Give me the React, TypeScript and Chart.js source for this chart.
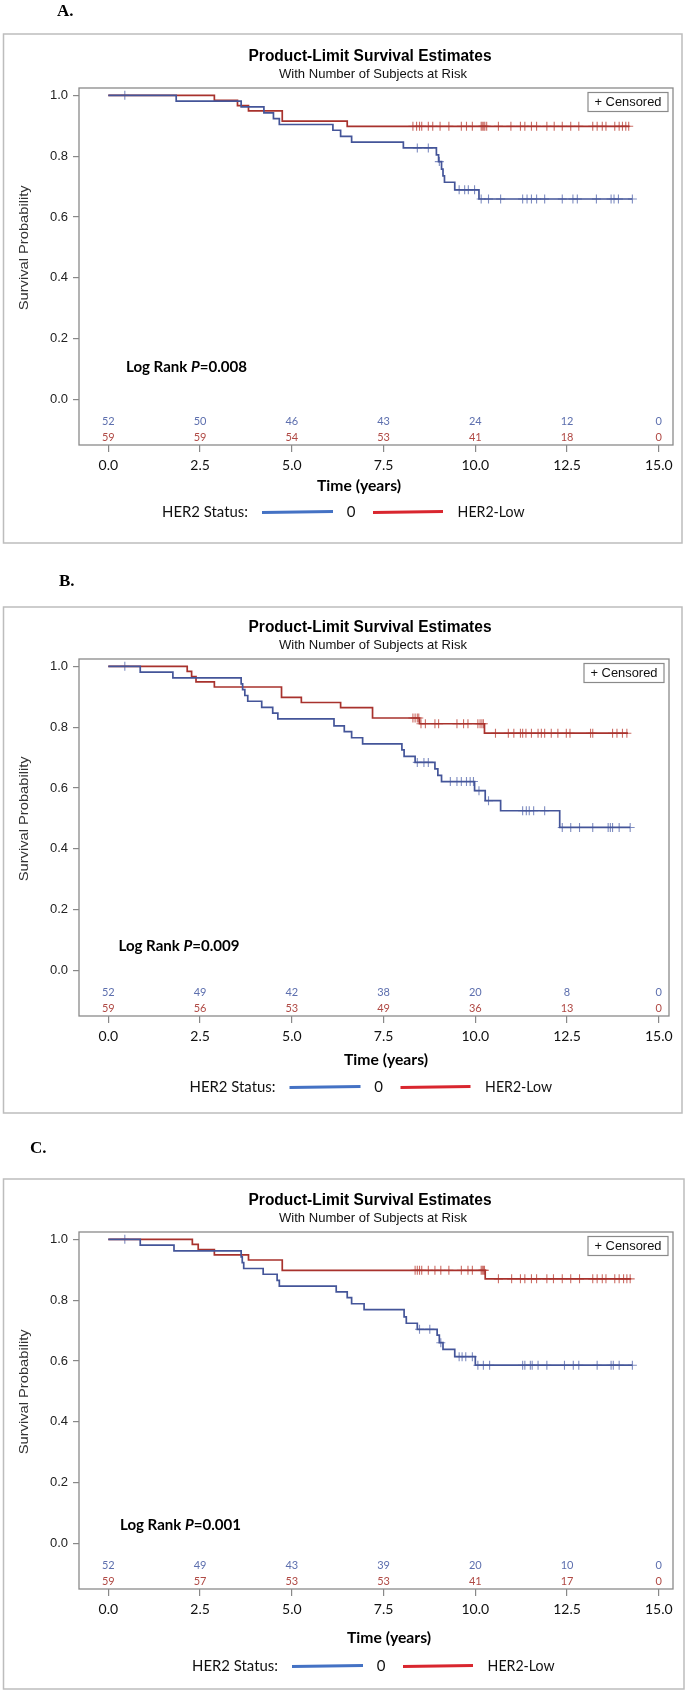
import React, { useEffect, useRef } from "react";
import { Chart, registerables } from "chart.js";
Chart.register(...registerables);

// ---------- shared axis data ----------
const X_TICKS = [0, 2.5, 5, 7.5, 10, 12.5, 15];
const Y_TICKS = [0, 0.2, 0.4, 0.6, 0.8, 1.0];
const RISK_TIMES = [0, 2.5, 5, 7.5, 10, 12.5, 15];
const GROUP_LABELS = ["0", "HER2-Low"];
const LEGEND_TITLE = "HER2 Status:";
const TITLE = "Product-Limit Survival Estimates";
const SUBTITLE = "With Number of Subjects at Risk";
const X_TITLE = "Time (years)";
const Y_TITLE = "Survival Probability";

// ---------- Panel A ----------
const A_ZERO_T = [0, 1.85, 3.62, 4.24, 4.5, 4.66, 6.12, 6.33, 6.63, 8.04, 8.94, 9.0, 9.08, 9.12, 9.16, 9.44, 10.1, 14.28];
const A_ZERO_S = [1, 0.981, 0.962, 0.942, 0.923, 0.904, 0.885, 0.865, 0.846, 0.827, 0.804, 0.782, 0.757, 0.735, 0.714, 0.689, 0.659, 0.659];
const A_ZERO_CENS = [0.45, 8.42, 8.72, 9.02, 9.56, 9.71, 9.81, 9.98, 10.16, 10.36, 10.69, 11.29, 11.41, 11.53, 11.67, 11.89, 12.37, 12.66, 12.78, 13.3, 13.7, 13.78, 13.9, 14.28];
const A_LOW_T = [0, 2.89, 3.52, 3.82, 4.74, 6.51, 14.2];
const A_LOW_S = [1, 0.983, 0.966, 0.949, 0.915, 0.898, 0.898];
const A_LOW_CENS = [8.3, 8.4, 8.48, 8.54, 8.72, 8.84, 9.04, 9.28, 9.62, 9.76, 9.92, 10.16, 10.19, 10.23, 10.26, 10.31, 10.63, 10.97, 11.23, 11.35, 11.53, 11.67, 11.95, 12.15, 12.37, 12.6, 12.82, 13.2, 13.32, 13.46, 13.56, 13.8, 13.92, 14.01, 14.1, 14.18];
const A_RISK_ZERO = [52, 50, 46, 43, 24, 12, 0];
const A_RISK_LOW = [59, 59, 54, 53, 41, 18, 0];
const A_P = "0.008";

// ---------- Panel B ----------
const B_ZERO_T = [0, 0.87, 1.76, 3.62, 3.66, 3.72, 3.8, 4.18, 4.48, 4.62, 6.15, 6.43, 6.63, 6.93, 8.0, 8.06, 8.36, 8.9, 8.98, 9.08, 9.98, 10.27, 10.69, 12.3, 14.22];
const B_ZERO_S = [1, 0.981, 0.962, 0.942, 0.923, 0.904, 0.885, 0.865, 0.846, 0.827, 0.804, 0.785, 0.765, 0.745, 0.725, 0.704, 0.684, 0.663, 0.641, 0.621, 0.591, 0.558, 0.525, 0.47, 0.47];
const B_ZERO_CENS = [0.45, 8.42, 8.6, 8.72, 9.32, 9.5, 9.62, 9.76, 9.86, 9.95, 10.1, 10.36, 11.29, 11.39, 11.47, 11.59, 11.89, 12.37, 12.6, 12.84, 13.2, 13.62, 13.68, 13.74, 13.92, 14.22];
const B_LOW_T = [0, 2.15, 2.27, 2.39, 2.89, 4.72, 5.26, 6.33, 7.2, 8.48, 10.25, 14.16];
const B_LOW_S = [1, 0.983, 0.966, 0.949, 0.932, 0.898, 0.881, 0.864, 0.83, 0.811, 0.78, 0.78];
const B_LOW_CENS = [8.3, 8.36, 8.42, 8.46, 8.52, 8.64, 8.9, 9.0, 9.5, 9.68, 9.8, 10.07, 10.13, 10.18, 10.22, 10.55, 10.9, 11.05, 11.23, 11.29, 11.38, 11.53, 11.71, 11.8, 11.89, 12.07, 12.25, 12.48, 12.58, 13.14, 13.2, 13.74, 13.86, 14.01, 14.13];
const B_RISK_ZERO = [52, 49, 42, 38, 20, 8, 0];
const B_RISK_LOW = [59, 56, 53, 49, 36, 13, 0];
const B_P = "0.009";

// ---------- Panel C ----------
const C_ZERO_T = [0, 0.87, 1.79, 3.62, 3.65, 3.69, 4.22, 4.6, 4.66, 6.21, 6.51, 6.63, 6.97, 8.06, 8.12, 8.42, 8.96, 9.02, 9.12, 9.44, 10.0, 14.28];
const C_ZERO_S = [1, 0.981, 0.962, 0.942, 0.923, 0.904, 0.885, 0.865, 0.846, 0.827, 0.808, 0.788, 0.769, 0.745, 0.724, 0.704, 0.685, 0.66, 0.638, 0.614, 0.586, 0.586];
const C_ZERO_CENS = [0.45, 8.48, 8.76, 9.06, 9.56, 9.64, 9.74, 9.92, 10.07, 10.22, 10.39, 11.29, 11.35, 11.5, 11.55, 11.71, 11.95, 12.43, 12.67, 12.82, 13.32, 13.7, 13.76, 13.92, 14.28];
const C_LOW_T = [0, 2.29, 2.45, 2.89, 3.82, 4.74, 10.27, 14.24];
const C_LOW_S = [1, 0.983, 0.966, 0.949, 0.932, 0.898, 0.87, 0.87];
const C_LOW_CENS = [8.36, 8.42, 8.48, 8.54, 8.72, 8.9, 9.06, 9.28, 9.62, 9.8, 9.92, 10.16, 10.19, 10.22, 10.25, 10.63, 10.99, 11.23, 11.35, 11.53, 11.67, 11.95, 12.13, 12.37, 12.6, 12.84, 13.2, 13.32, 13.46, 13.56, 13.8, 13.92, 14.04, 14.13, 14.22];
const C_RISK_ZERO = [52, 49, 43, 39, 20, 10, 0];
const C_RISK_LOW = [59, 57, 53, 53, 41, 17, 0];
const C_P = "0.001";

// ---------- layout (positions only) ----------
const LAYOUT = [
  { letter: "A.", top: 0, height: 560, letterX: 57, letterY: 12, boxTop: 34, boxBottom: 543, boxRight: 682, frameTop: 88, frameRight: 673, timeX: 359, timeDy: 41, legendLeft: 162, legendDy: 67, logX: 126, logY: 367 },
  { letter: "B.", top: 560, height: 570, letterX: 59, letterY: 22, boxTop: 47, boxBottom: 553, boxRight: 682, frameTop: 99, frameRight: 669, timeX: 386, timeDy: 44, legendLeft: 189.5, legendDy: 71, logX: 118.5, logY: 386 },
  { letter: "C.", top: 1130, height: 562, letterX: 30, letterY: 19, boxTop: 49, boxBottom: 559, boxRight: 684, frameTop: 102, frameRight: 673, timeX: 389, timeDy: 49, legendLeft: 192, legendDy: 77, logX: 120, logY: 395 },
];

const PANELS = [
  { zt: A_ZERO_T, zs: A_ZERO_S, zc: A_ZERO_CENS, lt: A_LOW_T, ls: A_LOW_S, lc: A_LOW_CENS, rz: A_RISK_ZERO, rl: A_RISK_LOW, p: A_P },
  { zt: B_ZERO_T, zs: B_ZERO_S, zc: B_ZERO_CENS, lt: B_LOW_T, ls: B_LOW_S, lc: B_LOW_CENS, rz: B_RISK_ZERO, rl: B_RISK_LOW, p: B_P },
  { zt: C_ZERO_T, zs: C_ZERO_S, zc: C_ZERO_CENS, lt: C_LOW_T, ls: C_LOW_S, lc: C_LOW_CENS, rz: C_RISK_ZERO, rl: C_RISK_LOW, p: C_P },
];

const PX_PER_YEAR = 36.7;
const X0_PIX = 108.3;
const FRAME_LEFT = 79;
const AREA_H = 357;
const Y_MIN = -0.15;
const Y_MAX = 1.024;
const RISK_ROW1 = -0.0737;
const RISK_ROW2 = -0.125;

const BLUE_LINE = "#445599";
const RED_LINE = "#a8322d";
const BLUE_CENS = "rgba(95,112,178,0.8)";
const RED_CENS = "rgba(190,72,62,0.8)";
const BLUE_RISK = "#5d6fae";
const RED_RISK = "#b04a45";
const BLUE_LEG = "#4472c4";
const RED_LEG = "#d9262e";

function survAt(T: number[], S: number[], t: number) {
  let v = S[0];
  for (let i = 0; i < T.length; i++) if (T[i] <= t) v = S[i];
  return v;
}

function fitText(ctx: CanvasRenderingContext2D, text: string, x: number, y: number, w: number, font: string, color: string, align: "left" | "center") {
  ctx.save();
  ctx.font = font;
  ctx.fillStyle = color;
  ctx.textBaseline = "middle";
  ctx.textAlign = "left";
  const m = ctx.measureText(text).width;
  const s = w / m;
  const left = align === "center" ? x - w / 2 : x;
  ctx.translate(left, y);
  ctx.scale(s, 1);
  ctx.fillText(text, 0, 0);
  ctx.restore();
}

function Panel({ idx }: { idx: number }) {
  const ref = useRef<HTMLCanvasElement>(null);
  const L = LAYOUT[idx];
  const D = PANELS[idx];
  useEffect(() => {
    const canvas = ref.current!;
    const frameBottom = L.frameTop + AREA_H;
    const xMin = (FRAME_LEFT - X0_PIX) / PX_PER_YEAR;
    const xMax = (L.frameRight - X0_PIX) / PX_PER_YEAR;
    const overlay = {
      id: "overlay" + idx,
      afterDraw(chart: any) {
        const ctx: CanvasRenderingContext2D = chart.ctx;
        const ca = chart.chartArea;
        const xs = chart.scales.x;
        const ys = chart.scales.y;
        ctx.save();
        // outer box
        ctx.strokeStyle = "#bdbdbd";
        ctx.lineWidth = 1.5;
        ctx.strokeRect(3.5, L.boxTop, L.boxRight - 3.5, L.boxBottom - L.boxTop);
        // panel letter
        ctx.font = 'bold 17px "Liberation Serif", "Times New Roman", serif';
        ctx.fillStyle = "#000";
        ctx.textBaseline = "middle";
        ctx.textAlign = "left";
        ctx.fillText(L.letter, L.letterX, L.letterY);
        // titles
        fitText(ctx, TITLE, 370, L.frameTop - 31, 243, 'bold 16px "Liberation Sans", Arial, sans-serif', "#000", "center");
        fitText(ctx, SUBTITLE, 373, L.frameTop - 13.5, 188, '13px "Liberation Sans", Arial, sans-serif', "#111", "center");
        // frame
        ctx.strokeStyle = "#8a8a8a";
        ctx.lineWidth = 1.3;
        ctx.strokeRect(ca.left, ca.top, ca.right - ca.left, ca.bottom - ca.top);
        // censored legend box
        const cbR = ca.right - 5;
        ctx.strokeStyle = "#8a8a8a";
        ctx.lineWidth = 1.2;
        ctx.strokeRect(cbR - 80, ca.top + 4.5, 80, 19);
        fitText(ctx, "+ Censored", cbR - 40, ca.top + 14, 67, '13px "Liberation Sans", Arial, sans-serif', "#111", "center");
        // y title
        ctx.save();
        ctx.translate(24, L.frameTop + 7.3 + 152.5);
        ctx.rotate(-Math.PI / 2);
        fitText(ctx, Y_TITLE, 0, 0, 125, '13px "Liberation Sans", Arial, sans-serif', "#333", "center");
        ctx.restore();
        // log rank
        ctx.textBaseline = "middle";
        ctx.fillStyle = "#000";
        ctx.font = 'bold 15px Lato, "Open Sans", sans-serif';
        const part1 = "Log Rank ";
        const part3 = "=" + D.p;
        ctx.font = 'bold 15px Lato, sans-serif';
        const w1 = ctx.measureText(part1).width;
        ctx.font = 'italic bold 15px Lato, sans-serif';
        const w2 = ctx.measureText("P").width;
        ctx.font = 'bold 15px Lato, sans-serif';
        const w3 = ctx.measureText(part3).width;
        const sc = 121 / (w1 + w2 + w3);
        ctx.save();
        ctx.translate(L.logX, L.logY);
        ctx.scale(sc, 1);
        ctx.font = 'bold 15px Lato, sans-serif';
        ctx.fillText(part1, 0, 0);
        ctx.font = 'italic bold 15px Lato, sans-serif';
        ctx.fillText("P", w1, 0);
        ctx.font = 'bold 15px Lato, sans-serif';
        ctx.fillText(part3, w1 + w2, 0);
        ctx.restore();
        // at-risk numbers
        ctx.font = '11px Lato, sans-serif';
        ctx.textAlign = "center";
        RISK_TIMES.forEach((t, i) => {
          const px = xs.getPixelForValue(t);
          ctx.fillStyle = BLUE_RISK;
          ctx.fillText(String(D.rz[i]), px, ys.getPixelForValue(RISK_ROW1));
          ctx.fillStyle = RED_RISK;
          ctx.fillText(String(D.rl[i]), px, ys.getPixelForValue(RISK_ROW2));
        });
        // x title
        fitText(ctx, X_TITLE, L.timeX, frameBottom + L.timeDy, 84, 'bold 15px Lato, sans-serif', "#000", "center");
        // legend
        const ly = frameBottom + L.legendDy;
        const lx = L.legendLeft;
        fitText(ctx, LEGEND_TITLE, lx, ly, 86, '15px Lato, sans-serif', "#111", "left");
        ctx.lineWidth = 3;
        ctx.lineCap = "butt";
        ctx.strokeStyle = BLUE_LEG;
        ctx.beginPath();
        ctx.moveTo(lx + 100, ly + 0.5);
        ctx.lineTo(lx + 171, ly - 0.5);
        ctx.stroke();
        ctx.font = '15px Lato, sans-serif';
        ctx.fillStyle = "#111";
        ctx.textAlign = "center";
        ctx.fillText(GROUP_LABELS[0], lx + 189, ly);
        ctx.strokeStyle = RED_LEG;
        ctx.beginPath();
        ctx.moveTo(lx + 211, ly + 0.5);
        ctx.lineTo(lx + 281, ly - 0.5);
        ctx.stroke();
        fitText(ctx, GROUP_LABELS[1], lx + 295.6, ly, 67, '15px Lato, sans-serif', "#111", "left");
        ctx.restore();
      },
    };

    const chart = new Chart(canvas, {
      type: "line",
      data: {
        datasets: [
          {
            label: GROUP_LABELS[0],
            data: D.zt.map((t, i) => ({ x: t, y: D.zs[i] })),
            borderColor: BLUE_LINE,
            borderWidth: 1.7,
            pointRadius: 0,
            stepped: true,
            fill: false,
          },
          {
            label: GROUP_LABELS[1],
            data: D.lt.map((t, i) => ({ x: t, y: D.ls[i] })),
            borderColor: RED_LINE,
            borderWidth: 1.7,
            pointRadius: 0,
            stepped: true,
            fill: false,
          },
          {
            label: "cens0",
            data: D.zc.map((t) => ({ x: t, y: survAt(D.zt, D.zs, t) })),
            showLine: false,
            pointStyle: "cross",
            pointRadius: 4.5,
            borderColor: BLUE_CENS,
            borderWidth: 1.1,
          },
          {
            label: "cens1",
            data: D.lc.map((t) => ({ x: t, y: survAt(D.lt, D.ls, t) })),
            showLine: false,
            pointStyle: "cross",
            pointRadius: 4.5,
            borderColor: RED_CENS,
            borderWidth: 1.1,
          },
        ],
      },
      options: {
        responsive: false,
        animation: false,
        devicePixelRatio: 1,
        layout: {
          padding: {
            left: 0,
            top: L.frameTop,
            right: 688 - L.frameRight,
            bottom: L.height - frameBottom - 40,
          },
        },
        plugins: { legend: { display: false }, tooltip: { enabled: false }, title: { display: false } },
        scales: {
          x: {
            type: "linear",
            min: xMin,
            max: xMax,
            afterFit: (s: any) => { s.height = 40; },
            afterBuildTicks: (s: any) => { s.ticks = X_TICKS.map((v) => ({ value: v })); },
            ticks: {
              callback: (v: any) => Number(v).toFixed(1),
              font: { family: "Lato", size: 14 },
              color: "#111",
              padding: 5,
              maxRotation: 0,
              autoSkip: false,
            },
            grid: { drawOnChartArea: false, drawTicks: true, tickLength: 7, color: "#888", lineWidth: 1.2 },
            border: { display: false },
          },
          y: {
            type: "linear",
            min: Y_MIN,
            max: Y_MAX,
            afterFit: (s: any) => { s.width = FRAME_LEFT; },
            afterBuildTicks: (s: any) => { s.ticks = Y_TICKS.map((v) => ({ value: v })); },
            ticks: {
              callback: (v: any) => Number(v).toFixed(1),
              font: { family: "Liberation Sans", size: 13 },
              color: "#222",
              padding: 5,
              autoSkip: false,
            },
            grid: { drawOnChartArea: false, drawTicks: true, tickLength: 6, color: "#888", lineWidth: 1.2 },
            border: { display: false },
          },
        },
      },
      plugins: [overlay],
    } as any);
    return () => chart.destroy();
  }, []);
  return (
    <canvas
      ref={ref}
      width={688}
      height={L.height}
      style={{ position: "absolute", left: 0, top: L.top, width: 688, height: L.height, display: "block" }}
    />
  );
}

export default function App() {
  return (
    <div style={{ position: "absolute", left: 0, top: 0, width: 688, height: 1692, background: "#fff", overflow: "hidden" }}>
      <Panel idx={0} />
      <Panel idx={1} />
      <Panel idx={2} />
    </div>
  );
}
